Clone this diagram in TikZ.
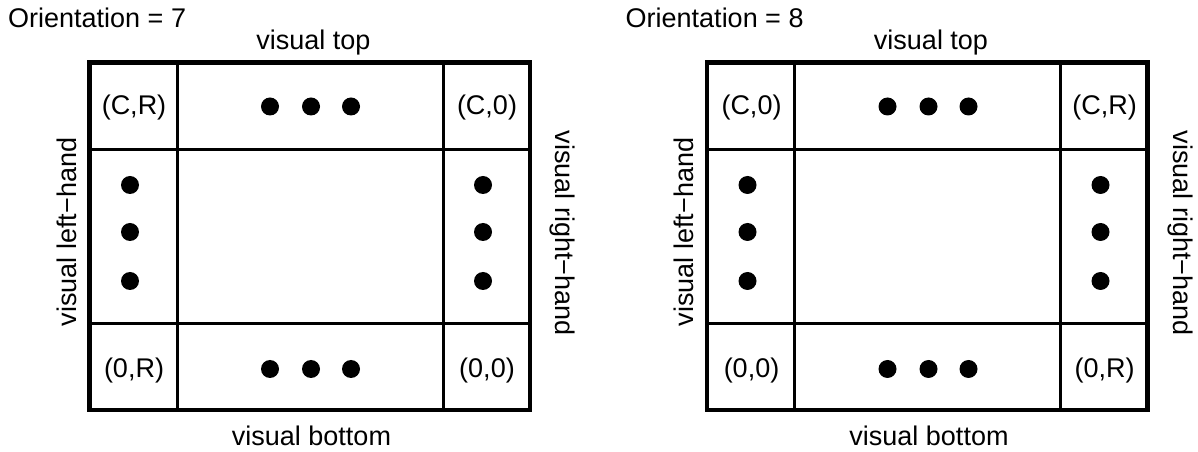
\documentclass[tikz,border=0pt]{standalone}
\usepackage{fontspec}
\setmainfont{Liberation Sans}
\begin{document}
\begin{tikzpicture}[x=1bp,y=-1bp,
  lbl/.style={inner sep=0pt, font=\fontsize{27bp}{32bp}\selectfont},
  outerline/.style={line width=4.6bp},
  innerline/.style={line width=3bp},
  dotmark/.style={fill=black}]
\useasboundingbox (0,0) rectangle (1198,452);
\foreach \ox/\n/\tl/\tr/\bl/\br in {0/7/{(C,R)}/{(C,0)}/{(0,R)}/{(0,0)},617.5/8/{(C,0)}/{(C,R)}/{(0,0)}/{(0,R)}} {
\begin{scope}[xshift=\ox bp]
  % grid lines
  \draw[innerline] (177,62.5) -- (177,410);
  \draw[innerline] (443,62.5) -- (443,410);
  \draw[innerline] (89.5,150) -- (530,150);
  \draw[innerline] (89.5,324) -- (530,324);
  \draw[outerline] (89.5,62.5) rectangle (530,410);
  % dots
  \foreach \x in {270,311,351} {
    \fill[dotmark] (\x,106.5) circle (9bp);
    \fill[dotmark] (\x,369) circle (9bp);
  }
  \foreach \y in {185,232,281} {
    \fill[dotmark] (130,\y) circle (9bp);
    \fill[dotmark] (483,\y) circle (9bp);
  }
  % labels
  \node[lbl, anchor=base west] (title\n) at (8,28) {Orientation = \n};
  \node[lbl, anchor=base] (top\n) at (313.5,50) {visual top};
  \node[lbl, anchor=base] (bot\n) at (311.5,446) {visual bottom};
  \node[lbl, rotate=90] (left\n) at (66.5,232) {visual left−hand};
  \node[lbl, rotate=-90] (right\n) at (562.5,233) {visual right−hand};
  \node[lbl] (tl\n) at (134,108) {\tl};
  \node[lbl] (tr\n) at (487,108) {\tr};
  \node[lbl] (bl\n) at (134,371) {\bl};
  \node[lbl] (br\n) at (487,371) {\br};
\end{scope}
}
\end{tikzpicture}
\end{document}
